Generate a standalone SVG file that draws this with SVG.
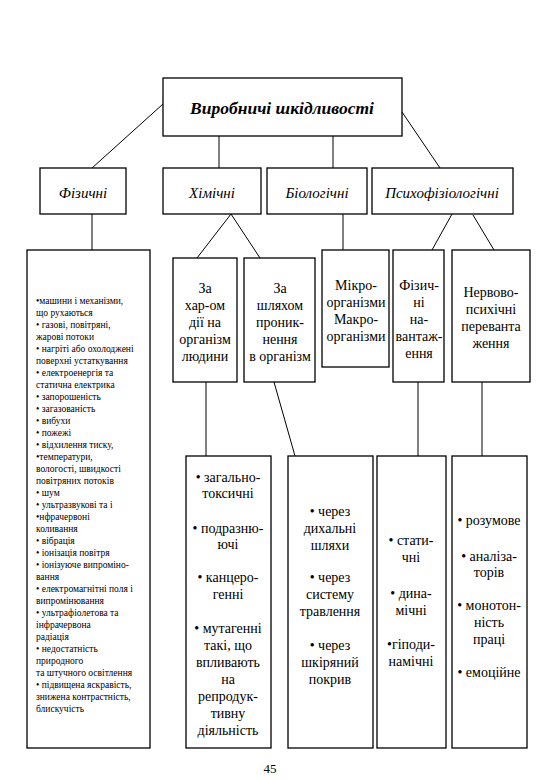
<svg xmlns="http://www.w3.org/2000/svg" width="540" height="780" viewBox="0 0 540 780">
<rect width="540" height="780" fill="#fff"/>
<g id="connectors" stroke="#000" stroke-width="1" fill="none">
<line x1="163" y1="104" x2="92" y2="168"/>
<line x1="219" y1="136" x2="219" y2="168"/>
<line x1="333" y1="136" x2="333" y2="168"/>
<line x1="402" y1="112" x2="440" y2="168"/>
<line x1="92" y1="214" x2="92" y2="250"/>
<line x1="231" y1="214" x2="197" y2="258"/>
<line x1="231" y1="214" x2="260" y2="258"/>
<line x1="343" y1="214" x2="343" y2="250"/>
<line x1="452" y1="214" x2="432" y2="250"/>
<line x1="473" y1="215" x2="494" y2="250"/>
<line x1="206" y1="382" x2="206" y2="456"/>
<line x1="274" y1="382" x2="295" y2="456"/>
<line x1="418" y1="382" x2="418" y2="456"/>
<line x1="482" y1="382" x2="482" y2="456"/>
</g>
<g id="nodes" fill="#000">
<g id="title">
<rect x="163" y="78" width="239" height="58" fill="#fff" stroke="#000" stroke-width="1.3"/>
<text x="282" y="114" style="font-family:'Liberation Serif',Tinos,serif" font-size="17.5" font-weight="bold" font-style="italic" text-anchor="middle">Виробничі шкідливості</text>
</g>
<g id="categories" font-size="15" font-style="italic" text-anchor="middle">
<g id="fizychni">
<rect x="40" y="168" width="86" height="46" fill="#fff" stroke="#000" stroke-width="1.3"/>
<text x="83" y="198" style="font-family:'Liberation Serif',Tinos,serif">Фізичні</text>
</g>
<g id="khimichni">
<rect x="163" y="168" width="98" height="46" fill="#fff" stroke="#000" stroke-width="1.3"/>
<text x="212" y="198" style="font-family:'Liberation Serif',Tinos,serif">Хімічні</text>
</g>
<g id="biolohichni">
<rect x="267" y="168" width="100" height="46" fill="#fff" stroke="#000" stroke-width="1.3"/>
<text x="317" y="198" style="font-family:'Liberation Serif',Tinos,serif">Біологічні</text>
</g>
<g id="psykhofiziolohichni">
<rect x="372" y="168" width="141" height="46" fill="#fff" stroke="#000" stroke-width="1.3"/>
<text x="442" y="198" style="font-family:'Liberation Serif',Tinos,serif">Психофізіологічні</text>
</g>
</g>
<g id="fizychni-list">
<rect x="27" y="250" width="123" height="498" fill="#fff" stroke="#000" stroke-width="1.3"/>
<text style="font-family:'Liberation Serif',Tinos,serif" font-size="9.5"><tspan x="36" y="304">•машини і механізми,</tspan><tspan x="36" y="316">що рухаються</tspan><tspan x="36" y="328">• газові, повітряні,</tspan><tspan x="36" y="340">жарові потоки</tspan><tspan x="36" y="352">• нагріті або охолоджені</tspan><tspan x="36" y="364">поверхні устаткування</tspan><tspan x="36" y="376">• електроенергія та</tspan><tspan x="36" y="388">статична електрика</tspan><tspan x="36" y="400">• запорошеність</tspan><tspan x="36" y="412">• загазованість</tspan><tspan x="36" y="424">• вибухи</tspan><tspan x="36" y="436">• пожежі</tspan><tspan x="36" y="448">• відхилення тиску,</tspan><tspan x="36" y="460">•температури,</tspan><tspan x="36" y="472">вологості, швидкості</tspan><tspan x="36" y="484">повітряних потоків</tspan><tspan x="36" y="496">• шум</tspan><tspan x="36" y="508">• ультразвукові та і</tspan><tspan x="36" y="520">•нфрачервоні</tspan><tspan x="36" y="532">коливання</tspan><tspan x="36" y="544">• вібрація</tspan><tspan x="36" y="556">• іонізація повітря</tspan><tspan x="36" y="568">• іонізуюче випроміно-</tspan><tspan x="36" y="580">вання</tspan><tspan x="36" y="592">• електромагнітні поля і</tspan><tspan x="36" y="604">випромінювання</tspan><tspan x="36" y="616">• ультрафіолетова та</tspan><tspan x="36" y="628">інфрачервона</tspan><tspan x="36" y="640">радіація</tspan><tspan x="36" y="652">• недостатність</tspan><tspan x="36" y="664">природного</tspan><tspan x="36" y="676">та штучного освітлення</tspan><tspan x="36" y="688">• підвищена яскравість,</tspan><tspan x="36" y="700">знижена контрастність,</tspan><tspan x="36" y="712">блискучість</tspan></text>
</g>
<g id="subnodes" font-size="14" text-anchor="middle">
<g id="za-kharakterom">
<rect x="173" y="258" width="64" height="124" fill="#fff" stroke="#000" stroke-width="1.3"/>
<text style="font-family:'Liberation Serif',Tinos,serif"><tspan x="205" y="293">За</tspan><tspan x="205" y="310">хар-ом</tspan><tspan x="205" y="327">дії на</tspan><tspan x="205" y="344">організм</tspan><tspan x="205" y="361">людини</tspan></text>
</g>
<g id="za-shliakhom">
<rect x="244" y="258" width="71" height="124" fill="#fff" stroke="#000" stroke-width="1.3"/>
<text style="font-family:'Liberation Serif',Tinos,serif"><tspan x="280" y="293">За</tspan><tspan x="280" y="310">шляхом</tspan><tspan x="280" y="327">проник-</tspan><tspan x="280" y="344">нення</tspan><tspan x="280" y="361">в організм</tspan></text>
</g>
<g id="mikroorhanizmy">
<rect x="322" y="250" width="67" height="117" fill="#fff" stroke="#000" stroke-width="1.3"/>
<text style="font-family:'Liberation Serif',Tinos,serif"><tspan x="356" y="290">Мікро-</tspan><tspan x="356" y="307">організми</tspan><tspan x="356" y="324">Макро-</tspan><tspan x="356" y="341">організми</tspan></text>
</g>
<g id="fizychni-navantazhennia">
<rect x="393" y="250" width="51" height="132" fill="#fff" stroke="#000" stroke-width="1.3"/>
<text style="font-family:'Liberation Serif',Tinos,serif"><tspan x="419" y="290">Фізич-</tspan><tspan x="419" y="307">ні</tspan><tspan x="419" y="324">на-</tspan><tspan x="419" y="341">вантаж-</tspan><tspan x="419" y="358">ення</tspan></text>
</g>
<g id="nervovo-psykhichni">
<rect x="452" y="250" width="78" height="132" fill="#fff" stroke="#000" stroke-width="1.3"/>
<text style="font-family:'Liberation Serif',Tinos,serif"><tspan x="491" y="297">Нервово-</tspan><tspan x="491" y="314">психічні</tspan><tspan x="491" y="331">перевантa</tspan><tspan x="491" y="348">ження</tspan></text>
</g>
<g id="khim-dii">
<rect x="186" y="456" width="85" height="292" fill="#fff" stroke="#000" stroke-width="1.3"/>
<text style="font-family:'Liberation Serif',Tinos,serif"><tspan x="228" y="482">• загально-</tspan><tspan x="228" y="498">токсичні</tspan><tspan x="228" y="533">• подразню-</tspan><tspan x="228" y="549">ючі</tspan><tspan x="228" y="582">• канцеро-</tspan><tspan x="228" y="599">генні</tspan><tspan x="228" y="633">• мутагенні</tspan><tspan x="228" y="650">такі, що</tspan><tspan x="228" y="667">впливають</tspan><tspan x="228" y="684">на</tspan><tspan x="228" y="701">репродук-</tspan><tspan x="228" y="718">тивну</tspan><tspan x="228" y="735">діяльність</tspan></text>
</g>
<g id="khim-shliakhy">
<rect x="288" y="456" width="85" height="292" fill="#fff" stroke="#000" stroke-width="1.3"/>
<text style="font-family:'Liberation Serif',Tinos,serif"><tspan x="330" y="516">• через</tspan><tspan x="330" y="533">дихальні</tspan><tspan x="330" y="550">шляхи</tspan><tspan x="330" y="582">• через</tspan><tspan x="330" y="599">систему</tspan><tspan x="330" y="616">травлення</tspan><tspan x="330" y="650">• через</tspan><tspan x="330" y="667">шкіряний</tspan><tspan x="330" y="684">покрив</tspan></text>
</g>
<g id="fiz-navant-vydy">
<rect x="377" y="456" width="69" height="292" fill="#fff" stroke="#000" stroke-width="1.3"/>
<text style="font-family:'Liberation Serif',Tinos,serif"><tspan x="411" y="545">• стати-</tspan><tspan x="411" y="562">чні</tspan><tspan x="411" y="598">• дина-</tspan><tspan x="411" y="615">мічні</tspan><tspan x="411" y="649">•гіподи-</tspan><tspan x="411" y="666">намічні</tspan></text>
</g>
<g id="nervovo-vydy">
<rect x="452" y="456" width="75" height="292" fill="#fff" stroke="#000" stroke-width="1.3"/>
<text style="font-family:'Liberation Serif',Tinos,serif"><tspan x="489" y="525">• розумове</tspan><tspan x="489" y="561">• аналіза-</tspan><tspan x="489" y="577">торів</tspan><tspan x="489" y="610">• монотон-</tspan><tspan x="489" y="627">ність</tspan><tspan x="489" y="644">праці</tspan><tspan x="489" y="677">• емоційне</tspan></text>
</g>
</g>
<text x="270" y="773" style="font-family:'Liberation Serif',Tinos,serif" font-size="13" text-anchor="middle">45</text>
</g>
</svg>
